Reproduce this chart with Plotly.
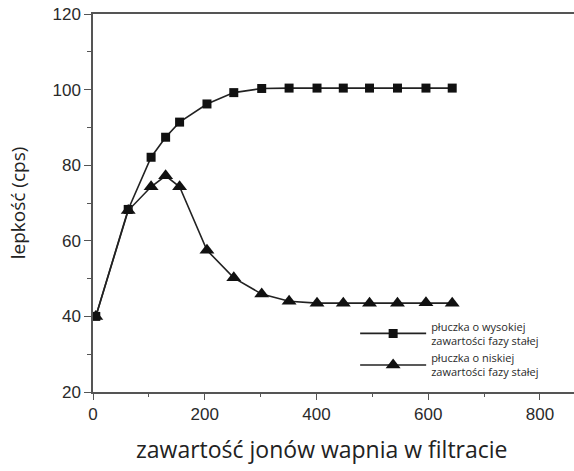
import plotly.graph_objects as go

# Data
x_high = [5, 63, 104, 130, 155, 204, 252, 302, 351, 401, 448, 495, 545, 596, 643]
y_high = [40.0, 68.3, 82.1, 87.4, 91.4, 96.2, 99.2, 100.3, 100.4, 100.4, 100.4, 100.4, 100.4, 100.4, 100.4]

x_low = [5, 63, 104, 130, 155, 204, 252, 302, 351, 401, 448, 495, 545, 596, 643]
y_low = [40.0, 68.0, 74.3, 77.2, 74.3, 57.5, 50.2, 45.9, 44.0, 43.5, 43.5, 43.5, 43.5, 43.6, 43.5]

name_high = "płuczka o wysokiej<br>zawartości fazy stałej"
name_low = "płuczka o niskiej<br>zawartości fazy stałej"

x_title = "zawartość jonów wapnia w filtracie"
y_title = "lepkość (cps)"

x_ticks = [0, 200, 400, 600, 800]
y_ticks = [20, 40, 60, 80, 100, 120]

line_col = "#222222"
axis_col = "#555555"
text_col = "#2a2a2a"

fig = go.Figure()
fig.add_trace(go.Scatter(
    x=x_high, y=y_high, name=name_high, mode="lines+markers",
    line=dict(color=line_col, width=1.6),
    marker=dict(symbol="square", size=9, color="#111111"),
))
fig.add_trace(go.Scatter(
    x=x_low, y=y_low, name=name_low, mode="lines+markers",
    line=dict(color=line_col, width=1.6),
    marker=dict(symbol="triangle-up", size=13, color="#111111"),
))

fig.update_layout(
    width=574, height=471,
    margin=dict(l=93, r=0, t=14, b=79),
    paper_bgcolor="white", plot_bgcolor="white",
    showlegend=True,
    legend=dict(
        x=0.545, y=0.21, xanchor="left", yanchor="top",
        bgcolor="rgba(0,0,0,0)",
        font=dict(family="Open Sans", size=11, color=text_col),
        tracegroupgap=2, itemwidth=66, valign="middle",
    ),
    font=dict(family="Liberation Sans, Arial", color=text_col),
    annotations=[dict(
        text=x_title, xref="paper", yref="paper", x=0.476, y=-0.15,
        xanchor="center", yanchor="middle", showarrow=False,
        font=dict(family="Open Sans", size=23, color="#222222"),
    )],
)
fig.update_xaxes(
    range=[0, 861], tickvals=x_ticks, ticktext=[str(v) for v in x_ticks],
    showline=True, linecolor=axis_col, linewidth=1.5, mirror=True,
    ticks="outside", ticklen=6, tickwidth=1.2, tickcolor=axis_col,
    minor=dict(tickvals=[100, 300, 500, 700], ticks="outside", ticklen=3, tickcolor=axis_col),
    showgrid=False, zeroline=False, automargin=False, ticklabeloverflow="allow",
    tickfont=dict(family="Liberation Sans, Arial", size=17, color=text_col),
)
fig.update_yaxes(
    range=[20, 120], tickvals=y_ticks, ticktext=[str(v) for v in y_ticks],
    showline=True, linecolor=axis_col, linewidth=1.5, mirror=False,
    ticks="outside", ticklen=7, tickwidth=1.2, tickcolor=axis_col,
    minor=dict(tickvals=[30, 50, 70, 90, 110], ticks="outside", ticklen=4, tickcolor=axis_col),
    showgrid=False, zeroline=False, automargin=False, ticklabeloverflow="allow",
    tickfont=dict(family="Liberation Sans, Arial", size=17, color=text_col),
    title=dict(text=y_title, font=dict(family="Open Sans", size=19, color="#222222"), standoff=22),
)

# remove the default 8px page margin so the figure sits at the window corner
fig.write_html("out.html", config={"displayModeBar": False},
               post_script="document.body.style.margin='0';")
